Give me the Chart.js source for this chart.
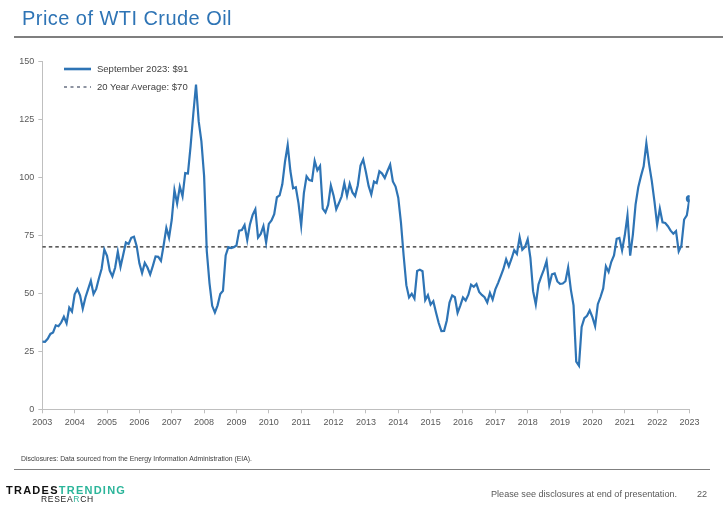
<!DOCTYPE html>
<html>
<head>
<meta charset="utf-8">
<script src="https://cdn.jsdelivr.net/npm/chart.js@4.4.0/dist/chart.umd.min.js"></script>
<style>
  html, body { margin:0; padding:0; background:#fff; }
  #wrap { position:relative; width:723px; height:516px; overflow:hidden; font-family:"Liberation Sans", Arial, sans-serif; }
  #c { position:absolute; left:0; top:0; }
  .abs { position:absolute; white-space:nowrap; }
  #title { left:22px; top:6px; font-size:20px; line-height:24px; letter-spacing:0.45px; color:#2E74B5; }
  #rule1 { left:14px; top:36px; width:709px; height:1.5px; background:#7F7F7F; }
  .leg { font-size:9.5px; line-height:12px; color:#404040; }
  #disc { left:21px; top:454px; font-family:"Liberation Sans Narrow","Liberation Sans",Arial,sans-serif; font-size:6.85px; line-height:10px; color:#404040; }
  #rule2 { left:14px; top:468.5px; width:696px; height:1.5px; background:#7F7F7F; }
  #logo1 { left:6px; top:483px; font-size:11px; line-height:14px; font-weight:bold; letter-spacing:1.25px; color:#111; }
  #logo1 span { color:#2BB59A; }
  #logo2 { left:41px; top:494px; font-size:8.5px; line-height:11px; letter-spacing:0.7px; color:#222; }
  #logo2 span { color:#2BB59A; }
  #please { left:491px; top:488px; font-family:"Liberation Sans Narrow","Liberation Sans",Arial,sans-serif; font-size:9.1px; line-height:12px; color:#595959; }
  #page { left:697px; top:488px; font-family:"Liberation Sans Narrow","Liberation Sans",Arial,sans-serif; font-size:9.1px; line-height:12px; color:#595959; }
</style>
</head>
<body>
<div id="wrap">
  <canvas id="c" width="723" height="516"></canvas>
  <div id="title" class="abs">Price of WTI Crude Oil</div>
  <div id="rule1" class="abs"></div>
  <div id="leg1" class="abs leg" style="left:97px;top:63px;"></div>
  <div id="leg2" class="abs leg" style="left:97px;top:81px;"></div>
  <div id="disc" class="abs">Disclosures: Data sourced from the Energy Information Administration (EIA).</div>
  <div id="rule2" class="abs"></div>
  <div id="logo1" class="abs">TRADES<span>TRENDING</span></div>
  <div id="logo2" class="abs">RESEA<span>R</span>CH</div>
  <div id="please" class="abs">Please see disclosures at end of presentation.</div>
  <div id="page" class="abs">22</div>
</div>
<script>
// Month-end WTI price, starting September 2003, ending September 2023
const p2003 = [29.2, 29.1, 30.4, 32.5];
const p2004 = [33.1, 36.2, 35.8, 37.4, 39.9, 37.1, 43.8, 42.1, 49.6, 51.8, 49.1, 43.4];
const p2005 = [48.2, 51.8, 55.4, 49.7, 51.9, 56.5, 60.6, 68.9, 66.2, 59.8, 57.3, 61.0];
const p2006 = [67.9, 61.4, 66.6, 71.9, 71.3, 73.9, 74.4, 70.3, 62.9, 58.7, 63.1, 61.1];
const p2007 = [58.1, 61.8, 65.9, 65.7, 64.0, 70.7, 78.2, 74.0, 81.7, 94.5, 88.7, 96.0];
const p2008 = [91.8, 101.8, 101.6, 113.5, 127.4, 140.0, 124.1, 115.5, 100.6, 68.1, 54.4, 44.6];
const p2009 = [41.7, 44.8, 49.7, 51.1, 66.3, 69.9, 69.5, 69.9, 70.6, 77.0, 77.3, 79.4];
const p2010 = [72.9, 79.7, 83.8, 86.2, 74.0, 75.6, 78.9, 71.9, 79.9, 81.4, 84.1, 91.4];
const p2011 = [92.2, 97.0, 106.7, 113.9, 102.7, 95.3, 95.7, 88.9, 79.2, 93.2, 100.4, 98.8];
const p2012 = [98.5, 107.1, 103.0, 104.9, 86.5, 84.9, 88.1, 96.5, 92.2, 86.2, 88.9, 91.8];
const p2013 = [97.5, 92.0, 97.2, 93.5, 91.9, 96.6, 105.1, 107.7, 102.3, 96.3, 92.6, 98.2];
const p2014 = [97.5, 102.6, 101.6, 99.7, 102.7, 105.4, 98.2, 96.0, 91.2, 80.5, 66.2, 53.5];
const p2015 = [48.2, 49.8, 47.7, 59.6, 60.2, 59.5, 47.1, 49.2, 45.1, 46.6, 41.7, 37.2];
const p2016 = [33.7, 33.8, 38.3, 46.0, 49.1, 48.3, 41.6, 44.7, 48.2, 46.9, 49.4, 53.7];
const p2017 = [52.8, 54.0, 50.6, 49.3, 48.3, 46.0, 50.2, 47.3, 51.7, 54.4, 57.4, 60.5];
const p2018 = [64.7, 61.6, 64.9, 68.6, 67.0, 74.2, 68.8, 70.0, 73.3, 65.3, 50.9, 45.2];
const p2019 = [53.8, 57.2, 60.2, 63.9, 53.5, 58.2, 58.6, 55.1, 54.1, 54.2, 55.2, 61.1];
const p2020 = [51.6, 44.8, 20.5, 18.8, 35.5, 39.3, 40.3, 42.6, 39.7, 35.8, 45.3, 48.4];
const p2021 = [52.1, 61.6, 59.2, 63.6, 66.3, 73.5, 73.9, 68.5, 75.0, 83.6, 66.2, 75.3];
const p2022 = [88.2, 95.7, 100.5, 104.7, 114.7, 105.8, 98.6, 89.6, 79.5, 86.5, 80.6, 80.3];
const p2023 = [78.9, 77.0, 75.7, 76.8, 68.1, 70.6, 81.8, 83.6, 90.8];

const yearLabels = ['2003','2004','2005','2006','2007','2008','2009','2010','2011','2012','2013',
                    '2014','2015','2016','2017','2018','2019','2020','2021','2022','2023'];
const yTicks = [0, 25, 50, 75, 100, 125, 150];
const averagePrice = 70;
const legendLatest = 'September 2023: $91';
const legendAverage = '20 Year Average: $70';

const prices = [].concat(p2003,p2004,p2005,p2006,p2007,p2008,p2009,p2010,p2011,p2012,p2013,
                         p2014,p2015,p2016,p2017,p2018,p2019,p2020,p2021,p2022,p2023);
const lastIdx = prices.length - 1;
const priceData = prices.map((v, i) => ({x: i, y: v}));
const avgData = [{x: 0, y: averagePrice}, {x: lastIdx + 1, y: averagePrice}];

const BLUE = '#2E74B5';

// HTML legend
function legendItem(el, text, dashed) {
  const c = document.createElement('canvas');
  c.width = 30; c.height = 8;
  c.style.cssText = 'position:absolute;left:-34px;top:2px;';
  const g = c.getContext('2d');
  g.beginPath(); g.moveTo(1, 4); g.lineTo(28, 4);
  if (dashed) { g.setLineDash([3, 3.5]); g.strokeStyle = '#1F2A44'; g.lineWidth = 1.2; }
  else { g.strokeStyle = BLUE; g.lineWidth = 2.6; }
  g.stroke();
  el.appendChild(c);
  el.appendChild(document.createTextNode(text));
}
legendItem(document.getElementById('leg1'), legendLatest, false);
legendItem(document.getElementById('leg2'), legendAverage, true);

const tickFont = {family: '"Liberation Sans", Arial, sans-serif', size: 9};

new Chart(document.getElementById('c'), {
  type: 'line',
  data: {
    datasets: [
      {
        data: priceData,
        borderColor: BLUE,
        backgroundColor: BLUE,
        borderWidth: 2.2,
        pointRadius: ctx => ctx.dataIndex === lastIdx ? 2.6 : 0,
        pointHoverRadius: 0,
        tension: 0,
        order: 1
      },
      {
        data: avgData,
        borderColor: '#262626',
        borderWidth: 1.1,
        borderDash: [3.5, 3],
        pointRadius: 0,
        order: 2
      }
    ]
  },
  options: {
    responsive: false,
    animation: false,
    events: [],
    layout: { padding: { left: 0, right: 33.5, top: 61.3, bottom: 86.7 } },
    plugins: { legend: { display: false }, tooltip: { enabled: false } },
    scales: {
      x: {
        type: 'linear',
        min: 0,
        max: lastIdx,
        afterFit: s => { s.height = 20; },
        afterBuildTicks: s => { s.ticks = yearLabels.map((_, i) => ({value: i * 12})); },
        ticks: {
          callback: v => yearLabels[Math.round(v / 12)],
          font: tickFont, color: '#595959', padding: 4, maxRotation: 0, autoSkip: false
        },
        grid: { drawOnChartArea: false, drawTicks: true, tickLength: 4, color: '#BFBFBF' },
        border: { color: '#BFBFBF', width: 1 }
      },
      y: {
        min: 0,
        max: 150,
        afterFit: s => { s.width = 42.3; },
        afterBuildTicks: s => { s.ticks = yTicks.map(v => ({value: v})); },
        ticks: { font: tickFont, color: '#595959', padding: 4 },
        grid: { drawOnChartArea: false, drawTicks: true, tickLength: 4, color: '#BFBFBF' },
        border: { color: '#BFBFBF', width: 1 }
      }
    }
  }
});
</script>
</body>
</html>
